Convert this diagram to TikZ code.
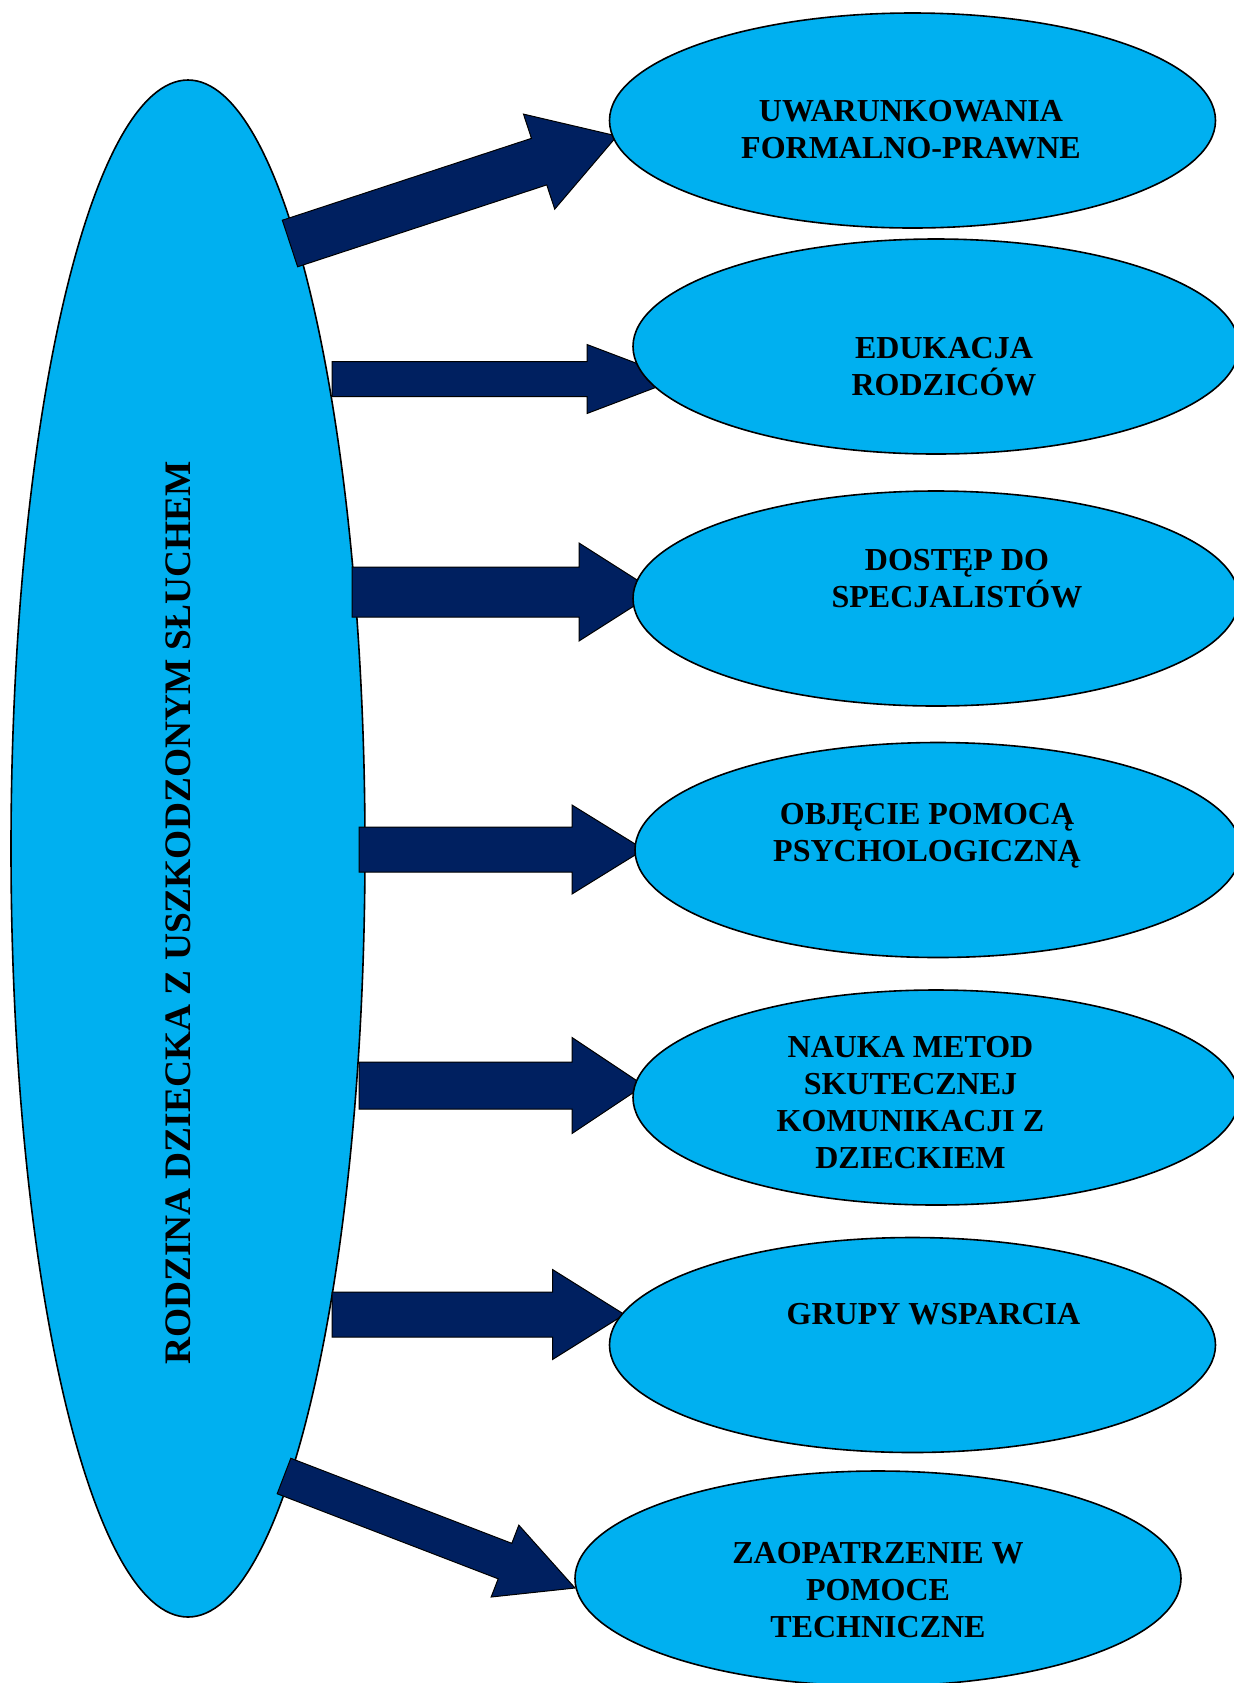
\documentclass[tikz,border=0pt]{standalone}
\usepackage{fontspec}
\setmainfont{Liberation Serif}
\usepackage{tikz}
\usetikzlibrary{shapes.geometric,calc}
\definecolor{OvalFill}{HTML}{00B0F0}
\definecolor{ArrowFill}{HTML}{002060}
\pgfdeclarelayer{back}
\pgfdeclarelayer{arrows}
\pgfsetlayers{back,arrows,main}
\newcommand{\BlockArrow}[5]{%
  \coordinate (headbase) at ($(#2)!#5!(#1)$);
  \draw[blockarrow] ($(#1)!#3!90:(#2)$) -- ($(headbase)!#3!90:(#2)$)
    -- ($(headbase)!#4!90:(#2)$) -- (#2) -- ($(headbase)!#4!-90:(#2)$)
    -- ($(headbase)!#3!-90:(#2)$) -- ($(#1)!#3!-90:(#2)$) -- cycle;%
}

\begin{document}
\begin{tikzpicture}[
  x=0.5pt,y=-0.5pt,
  oval/.style={ellipse,draw=black,line width=0.8pt,fill=OvalFill,inner sep=0pt,outer sep=0pt,
               minimum width=303pt,minimum height=107.5pt},
  bigoval/.style={oval,minimum width=177pt,minimum height=768.5pt},
  ovaltext/.style={anchor=north,align=center,inner sep=0pt,
                   font=\fontsize{16}{18.4}\selectfont\bfseries},
  blockarrow/.style={draw=black,line width=0.5pt,fill=ArrowFill,line join=miter},
]
  \useasboundingbox (0,0) rectangle (1233,1683);
  \begin{pgfonlayer}{back}
    \fill[white] (0,0) rectangle (1233,1683);
    \node[bigoval] (fam) at (188,848.5) {};
  \end{pgfonlayer}
  \node[rotate=90,inner sep=0pt,font=\fontsize{18.7}{20}\selectfont\bfseries] (famtext) at (178.5,913)
    {RODZINA DZIECKA Z USZKODZONYM SŁUCHEM};

  \node[oval] (e1) at (912.5,120.5) {};
  \node[oval] (e2) at (936,346.5) {};
  \node[oval] (e3) at (936,598.5) {};
  \node[oval] (e4) at (938,850) {};
  \node[oval] (e5) at (936,1097.5) {};
  \node[oval] (e6) at (912.5,1345) {};
  \node[oval] (e7) at (878,1578.5) {};

  \node[ovaltext] (t1) at (911,100) {UWARUNKOWANIA\\FORMALNO-PRAWNE};
  \node[ovaltext] (t2) at (944,337) {EDUKACJA\\RODZICÓW};
  \node[ovaltext] (t3) at (957,549) {DOSTĘP DO\\SPECJALISTÓW};
  \node[ovaltext] (t4) at (927,803) {OBJĘCIE POMOCĄ\\PSYCHOLOGICZNĄ};
  \node[ovaltext] (t5) at (910.5,1036) {NAUKA METOD\\SKUTECZNEJ\\KOMUNIKACJI Z\\DZIECKIEM};
  \node[ovaltext] (t6) at (933.5,1303) {GRUPY WSPARCIA};
  \node[ovaltext] (t7) at (878,1542) {ZAOPATRZENIE W\\POMOCE\\TECHNICZNE};

  \coordinate (a1t) at ($(fam.center)+(102,-605)$);
  \coordinate (a1h) at ($(e1.center)+(-295.5,15.5)$);
  \coordinate (a2t) at ($(fam.center)+(144,-469.5)$);
  \coordinate (a2h) at ($(a2t -| e2.west)+(45,0)$);
  \coordinate (a3t) at ($(fam.center)+(164,-256.5)$);
  \coordinate (a3h) at ($(a3t -| e3.west)+(23,0)$);
  \coordinate (a4t) at ($(fam.center)+(171,1)$);
  \coordinate (a4h) at ($(a4t -| e4.west)+(9,0)$);
  \coordinate (a5t) at ($(fam.center)+(171,237)$);
  \coordinate (a5h) at ($(a5t -| e5.west)+(11,0)$);
  \coordinate (a6t) at ($(fam.center)+(144,466)$);
  \coordinate (a6h) at ($(a6t -| e6.west)+(15,0)$);
  \coordinate (a7t) at ($(fam.center)+(96,627.5)$);
  \coordinate (a7h) at ($(e7.center)+(-303,9.5)$);

  \begin{pgfonlayer}{arrows}
    \BlockArrow{a1t}{a1h}{12.25pt}{25pt}{41pt}
    \BlockArrow{a2t}{a2h}{8.75pt}{17.25pt}{45.5pt}
    \BlockArrow{a3t}{a3h}{12.5pt}{24.5pt}{38.5pt}
    \BlockArrow{a4t}{a4h}{11.25pt}{22.25pt}{36pt}
    \BlockArrow{a5t}{a5h}{11.75pt}{24pt}{36pt}
    \BlockArrow{a6t}{a6h}{11.25pt}{22.5pt}{36pt}
    \BlockArrow{a7t}{a7h}{9.5pt}{19.25pt}{37.5pt}
  \end{pgfonlayer}
\end{tikzpicture}
\end{document}
